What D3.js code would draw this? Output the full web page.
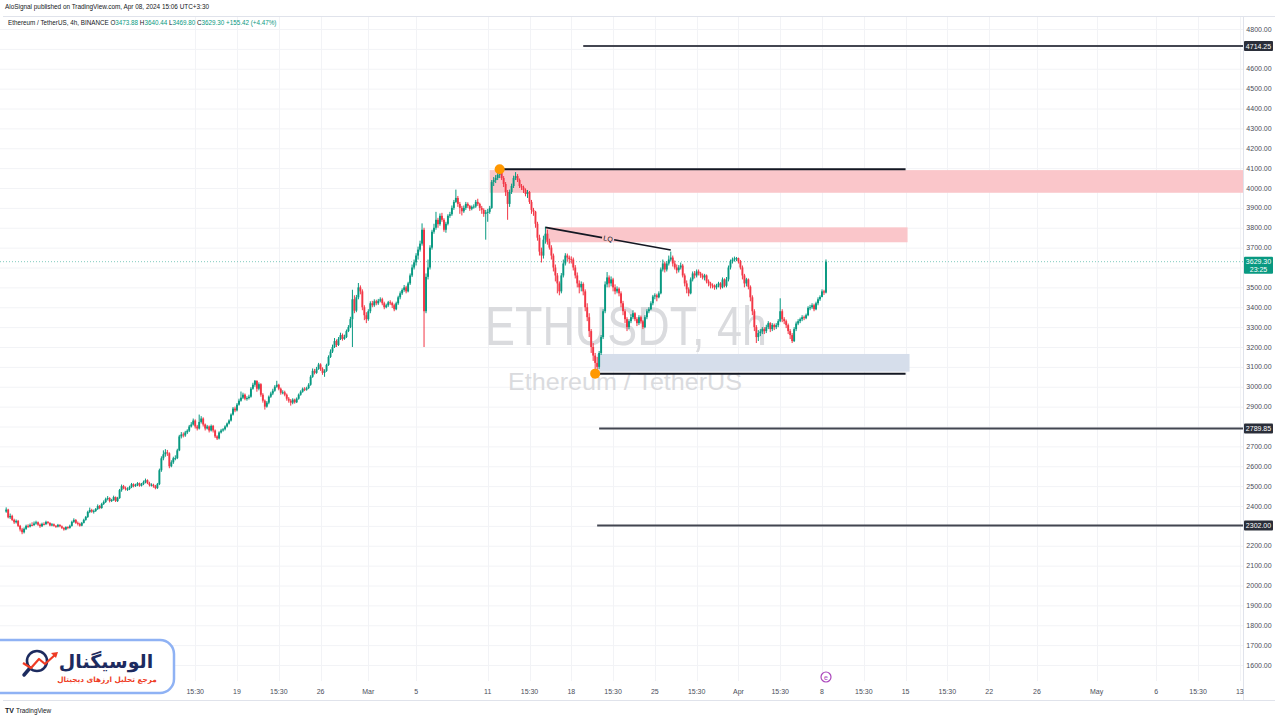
<!DOCTYPE html>
<html>
<head>
<meta charset="utf-8">
<style>
  body { margin: 0; background: #fff; }
  svg text { font-family: "Liberation Sans", Arial, sans-serif; }
  .fa { font-family: "DejaVu Sans", sans-serif; }
</style>
</head>
<body>
<svg id="chart" width="1280" height="720"></svg>
<script src="https://cdn.jsdelivr.net/npm/d3@7"></script>
<script>
// ---- data (4h candles, times in UTC+3:30 written as plain clock time) ----
var firstCandle = "2024-01-30T19:30";
var firstOpen = 2372;

// one row per day, 6 candles each
var closes = [
  2382,2343,
  2350,2330,2318,2325,2300,2282,
  2268,2285,2300,2296,2305,2304,
  2312,2318,2306,2298,2310,2309,
  2320,2315,2302,2308,2300,2296,
  2305,2298,2290,2282,2294,2290,
  2300,2320,2330,2315,2310,2301,
  2315,2330,2345,2370,2380,2372,
  2375,2385,2400,2390,2410,2420,
  2435,2440,2425,2430,2445,2425,
  2440,2480,2500,2490,2485,2486,
  2495,2510,2500,2505,2515,2502,
  2510,2520,2530,2515,2505,2507,
  2500,2490,2510,2580,2640,2660,
  2670,2665,2600,2620,2640,2641,
  2680,2750,2760,2755,2770,2779,
  2800,2810,2830,2800,2790,2823,
  2840,2810,2790,2800,2780,2803,
  2780,2750,2740,2770,2780,2786,
  2800,2815,2830,2860,2890,2881,
  2910,2930,2945,2960,2940,2943,
  2950,2990,3010,3030,2990,3013,
  2960,2930,2900,2920,2950,2966,
  2980,3000,3010,2990,2970,2972,
  2960,2940,2930,2920,2935,2922,
  2940,2960,2975,2990,2985,2993,
  3010,3050,3080,3070,3090,3112,
  3090,3070,3080,3110,3150,3177,
  3200,3230,3210,3240,3260,3241,
  3250,3280,3300,3340,3440,3383,
  3450,3500,3480,3400,3360,3340,
  3380,3420,3410,3430,3420,3433,
  3440,3420,3400,3410,3425,3421,
  3410,3390,3420,3450,3470,3487,
  3500,3480,3520,3560,3600,3626,
  3660,3690,3720,3790,3380,3553,
  3600,3700,3780,3800,3840,3818,
  3860,3840,3790,3820,3860,3868,
  3900,3930,3950,3920,3900,3883,
  3900,3920,3910,3895,3905,3907,
  3930,3920,3900,3890,3870,3877,
  3880,3900,4030,4040,4050,4066,
  4080,4050,4020,3980,3920,3980,
  4010,4050,4060,4040,4010,4003,
  3990,3970,3980,3930,3890,3881,
  3820,3750,3680,3660,3740,3770,
  3730,3700,3660,3600,3560,3520,
  3480,3560,3620,3660,3650,3642,
  3640,3600,3560,3520,3500,3517,
  3480,3400,3350,3280,3200,3157,
  3120,3100,3170,3250,3380,3515,
  3550,3520,3540,3500,3480,3493,
  3470,3420,3380,3340,3300,3330,
  3350,3370,3340,3320,3350,3329,
  3300,3350,3380,3390,3420,3454,
  3460,3450,3470,3590,3620,3590,
  3620,3640,3650,3620,3600,3586,
  3600,3610,3560,3520,3490,3470,
  3540,3570,3560,3580,3570,3560,
  3550,3560,3530,3520,3510,3509,
  3500,3510,3520,3500,3540,3508,
  3540,3600,3630,3640,3645,3647,
  3630,3600,3560,3520,3540,3503,
  3450,3380,3300,3250,3270,3278,
  3290,3280,3300,3320,3290,3311,
  3300,3310,3330,3380,3340,3330,
  3310,3280,3260,3230,3290,3318,
  3330,3340,3350,3345,3360,3397,
  3400,3410,3390,3420,3440,3452,
  3480,3473.88,3629.30
];
var highs = [
  2393,2386,
  2362,2356,2336,2332,2330,2305,
  2290,2292,2306,2308,2312,2318,
  2322,2326,2322,2312,2316,2318,
  2326,2324,2318,2314,2312,2304,
  2310,2308,2302,2294,2298,2298,
  2306,2326,2338,2334,2322,2316,
  2320,2336,2350,2376,2392,2386,
  2382,2390,2408,2405,2416,2428,
  2442,2450,2444,2436,2452,2448,
  2446,2486,2508,2506,2498,2494,
  2502,2516,2514,2512,2520,2518,
  2516,2528,2538,2534,2522,2514,
  2512,2506,2516,2588,2650,2680,
  2686,2682,2670,2630,2648,2655,
  2688,2758,2772,2770,2778,2786,
  2808,2822,2840,2836,2808,2860,
  2852,2846,2815,2808,2805,2810,
  2808,2785,2756,2776,2788,2792,
  2806,2820,2836,2866,2898,2900,
  2918,2940,2976,2970,2966,2952,
  2960,2998,3020,3034,3032,3022,
  3018,2968,2936,2928,2956,2975,
  2990,3008,3030,3015,2996,2982,
  2980,2966,2948,2938,2942,2940,
  2946,2966,2982,2996,2998,3000,
  3018,3058,3092,3090,3100,3120,
  3118,3098,3088,3116,3158,3188,
  3212,3245,3238,3250,3272,3268,
  3262,3288,3310,3352,3488,3460,
  3462,3522,3510,3490,3410,3375,
  3390,3430,3432,3440,3438,3442,
  3450,3448,3428,3418,3432,3435,
  3428,3418,3428,3458,3480,3495,
  3512,3508,3528,3570,3615,3640,
  3672,3705,3735,3822,3800,3570,
  3640,3712,3790,3820,3880,3850,
  3872,3875,3848,3830,3868,3880,
  3912,3940,3992,3960,3930,3910,
  3912,3930,3928,3915,3912,3918,
  3940,3946,3926,3910,3898,3890,
  3895,3910,4040,4055,4065,4080,
  4094,4088,4060,4030,3990,3992,
  4022,4062,4080,4070,4048,4020,
  4012,3998,3990,3985,3940,3900,
  3885,3830,3765,3700,3760,3805,
  3790,3745,3712,3670,3615,3572,
  3530,3572,3640,3672,3670,3660,
  3656,3650,3612,3575,3535,3530,
  3525,3490,3420,3370,3290,3220,
  3170,3150,3180,3260,3390,3530,
  3577,3560,3555,3548,3515,3505,
  3500,3480,3432,3390,3350,3340,
  3365,3385,3375,3350,3360,3358,
  3335,3360,3390,3400,3430,3462,
  3470,3468,3480,3600,3640,3630,
  3632,3660,3680,3660,3635,3615,
  3612,3625,3618,3570,3535,3500,
  3550,3580,3582,3590,3590,3578,
  3570,3568,3565,3540,3528,3520,
  3515,3518,3528,3526,3550,3545,
  3552,3610,3640,3650,3655,3653,
  3650,3638,3610,3568,3548,3545,
  3510,3460,3390,3310,3285,3290,
  3300,3300,3312,3330,3325,3320,
  3318,3320,3340,3445,3390,3350,
  3338,3318,3290,3270,3300,3328,
  3340,3348,3360,3358,3368,3405,
  3412,3420,3418,3428,3450,3460,
  3490,3488,3640.44
];
var lows = [
  2366,2338,
  2335,2325,2310,2312,2294,2272,
  2258,2262,2280,2290,2292,2298,
  2300,2306,2300,2290,2294,2302,
  2304,2308,2298,2298,2296,2290,
  2292,2293,2284,2276,2278,2283,
  2286,2296,2315,2310,2302,2296,
  2298,2312,2326,2340,2364,2366,
  2362,2370,2380,2384,2386,2405,
  2415,2428,2418,2420,2426,2420,
  2420,2436,2472,2484,2478,2476,
  2480,2490,2494,2496,2500,2497,
  2498,2505,2514,2510,2498,2498,
  2492,2484,2486,2505,2572,2630,
  2648,2652,2590,2595,2612,2630,
  2636,2676,2740,2745,2748,2762,
  2772,2795,2805,2790,2780,2785,
  2815,2800,2780,2785,2770,2775,
  2770,2742,2732,2735,2765,2774,
  2780,2795,2810,2825,2855,2872,
  2876,2905,2925,2938,2932,2930,
  2936,2945,2985,3000,2975,2982,
  2950,2920,2885,2895,2912,2944,
  2958,2975,2995,2982,2960,2962,
  2952,2930,2920,2905,2912,2915,
  2918,2935,2955,2970,2978,2980,
  2988,3005,3045,3062,3065,3085,
  3080,3060,3050,3075,3105,3145,
  3170,3195,3200,3205,3235,3232,
  3236,3245,3275,3295,3200,3370,
  3375,3440,3465,3385,3335,3320,
  3332,3370,3400,3402,3410,3412,
  3425,3410,3390,3395,3402,3412,
  3396,3380,3385,3412,3440,3462,
  3478,3470,3475,3512,3552,3590,
  3610,3640,3680,3710,3200,3370,
  3540,3590,3690,3770,3790,3800,
  3810,3830,3780,3775,3812,3850,
  3860,3890,3925,3905,3870,3862,
  3875,3890,3900,3885,3888,3896,
  3900,3910,3885,3870,3855,3740,
  3830,3870,3895,4010,4025,4040,
  4050,4040,4005,3960,3840,3905,
  3970,4000,4040,4030,4000,3990,
  3975,3958,3950,3920,3870,3860,
  3800,3735,3660,3625,3645,3720,
  3715,3690,3640,3580,3530,3470,
  3460,3470,3550,3610,3630,3620,
  3620,3585,3545,3500,3470,3480,
  3460,3380,3330,3250,3170,3130,
  3056,3080,3090,3160,3240,3370,
  3500,3500,3505,3480,3465,3470,
  3455,3400,3360,3320,3280,3290,
  3320,3340,3330,3305,3310,3318,
  3290,3295,3340,3370,3385,3410,
  3440,3430,3445,3465,3580,3575,
  3580,3610,3630,3605,3590,3570,
  3575,3590,3550,3505,3470,3455,
  3465,3530,3545,3550,3560,3548,
  3540,3535,3520,3505,3495,3495,
  3488,3490,3500,3490,3495,3500,
  3500,3530,3590,3620,3630,3632,
  3620,3590,3540,3500,3505,3490,
  3430,3360,3280,3220,3230,3255,
  3265,3265,3270,3290,3275,3280,
  3285,3290,3300,3325,3325,3315,
  3295,3265,3240,3220,3225,3280,
  3310,3320,3330,3335,3340,3355,
  3385,3392,3380,3385,3410,3432,
  3450,3462,3469.80
];

var priceTicks = [1600,1700,1800,1900,2000,2100,2200,2300,2400,2500,2600,2700,2800,2900,3000,
  3100,3200,3300,3400,3500,3600,3700,3800,3900,4000,4100,4200,4300,4400,4500,4600,4700,4800];
var hiddenPriceLabels = [2300, 2800, 3600, 4700];

var timeTickDates = ["2024-02-15T15:30","2024-02-19T03:30","2024-02-22T15:30","2024-02-26T03:30","2024-03-01T03:30",
  "2024-03-05T03:30","2024-03-11T03:30","2024-03-14T15:30","2024-03-18T03:30","2024-03-21T15:30","2024-03-25T03:30",
  "2024-03-28T15:30","2024-04-01T03:30","2024-04-04T15:30","2024-04-08T03:30","2024-04-11T15:30","2024-04-15T03:30",
  "2024-04-18T15:30","2024-04-22T03:30","2024-04-26T03:30","2024-05-01T03:30","2024-05-06T03:30","2024-05-09T15:30",
  "2024-05-13T03:30"];
var timeTickLabels = ["15:30","19","15:30","26","Mar","5","11","15:30","18","15:30","25","15:30","Apr","15:30","8",
  "15:30","15","15:30","22","26","May","6","15:30","13"];

// horizontal levels running to the price axis
var levelPrices = [4714.25, 2789.85, 2302.00];
var levelStarts = ["2024-03-19T03:30", "2024-03-20T11:30", "2024-03-20T07:30"];

// rectangles (supply / demand zones)
var zoneTops = [4090, 3802, 3165];
var zoneBottoms = [3976, 3727, 3076];
var zoneStarts = ["2024-03-11T07:30", "2024-03-15T23:30", "2024-03-20T07:30"];
var zoneEnds = ["2024-05-20T03:30", "2024-04-15T07:30", "2024-04-15T11:30"];
var zoneColors = ["#fac6ca", "#fac6ca", "#d6deeb"];

// swing high / low rays
var swingPrices = [4093.92, 3066];
var swingStarts = ["2024-03-12T03:30", "2024-03-20T03:30"];
var swingEnds = ["2024-04-15T03:30", "2024-04-15T03:30"];

// LQ trend line
var lqDates = ["2024-03-15T23:30", "2024-03-26T11:30"];
var lqPrices = [3802, 3688];

var lastPrice = 3629.30;

// ---- drawing ----
var parse = d3.utcParse("%Y-%m-%dT%H:%M");
var plotRight = 1243, plotTop = 17, plotBottom = 681;
var up = "#089981", down = "#f23645";

var x = d3.scaleUtc()
  .domain([parse("2024-02-19T03:30"), parse("2024-04-08T03:30")])
  .range([237, 822]);
var y = d3.scaleLinear().domain([1600, 4800]).range([665, 29]);

var svg = d3.select("#chart");

svg.append("defs").append("clipPath").attr("id", "plot")
  .append("rect").attr("x", 0).attr("y", plotTop).attr("width", plotRight).attr("height", plotBottom - plotTop);

// grid
var grid = svg.append("g").attr("clip-path", "url(#plot)");
grid.selectAll(".hg").data(priceTicks).enter().append("line")
  .attr("x1", 0).attr("x2", plotRight)
  .attr("y1", function(d) { return y(d) + 0.5; }).attr("y2", function(d) { return y(d) + 0.5; })
  .attr("stroke", "#f2f3f6").attr("stroke-width", 1);
grid.selectAll(".vg").data(timeTickDates).enter().append("line")
  .attr("x1", function(d) { return Math.round(x(parse(d))) + 0.5; })
  .attr("x2", function(d) { return Math.round(x(parse(d))) + 0.5; })
  .attr("y1", plotTop).attr("y2", plotBottom)
  .attr("stroke", "#f2f3f6").attr("stroke-width", 1);

// watermark
svg.append("text").attr("x", 626).attr("y", 345).attr("text-anchor", "middle")
  .attr("font-size", 56).attr("fill", "#dadbde")
  .attr("textLength", 282).attr("lengthAdjust", "spacingAndGlyphs").text("ETHUSDT, 4h");
svg.append("text").attr("x", 625).attr("y", 390).attr("text-anchor", "middle")
  .attr("font-size", 24).attr("fill", "#dadbde")
  .attr("textLength", 234).attr("lengthAdjust", "spacingAndGlyphs").text("Ethereum / TetherUS");

var plot = svg.append("g").attr("clip-path", "url(#plot)");

// zones
plot.selectAll(".zone").data(zoneTops).enter().append("rect")
  .attr("x", function(d, i) { return x(parse(zoneStarts[i])); })
  .attr("width", function(d, i) { return x(parse(zoneEnds[i])) - x(parse(zoneStarts[i])); })
  .attr("y", function(d) { return y(d); })
  .attr("height", function(d, i) { return y(zoneBottoms[i]) - y(d); })
  .attr("fill", function(d, i) { return zoneColors[i]; });

// last price line
plot.append("line").attr("x1", 0).attr("x2", plotRight)
  .attr("y1", y(lastPrice)).attr("y2", y(lastPrice))
  .attr("stroke", up).attr("stroke-width", 1).attr("stroke-dasharray", "1,2").attr("opacity", 0.5);

// candles
var t0 = parse(firstCandle);
var candles = closes.map(function(c, i) {
  return { t: d3.utcHour.offset(t0, 4 * i), o: i ? closes[i - 1] : firstOpen, h: highs[i], l: lows[i], c: c };
});
var cg = plot.append("g");
cg.selectAll(".wick").data(candles).enter().append("line")
  .attr("x1", function(d) { return x(d.t); }).attr("x2", function(d) { return x(d.t); })
  .attr("y1", function(d) { return y(d.h); }).attr("y2", function(d) { return y(d.l); })
  .attr("stroke", function(d) { return d.c >= d.o ? up : down; }).attr("stroke-width", 1);
cg.selectAll(".body").data(candles).enter().append("rect")
  .attr("x", function(d) { return x(d.t) - 0.95; }).attr("width", 1.9)
  .attr("y", function(d) { return y(Math.max(d.o, d.c)); })
  .attr("height", function(d) { return Math.max(1, Math.abs(y(d.o) - y(d.c))); })
  .attr("fill", function(d) { return d.c >= d.o ? up : down; });

// horizontal levels
plot.selectAll(".lvl").data(levelPrices).enter().append("line")
  .attr("x1", function(d, i) { return x(parse(levelStarts[i])); }).attr("x2", plotRight)
  .attr("y1", function(d) { return y(d); }).attr("y2", function(d) { return y(d); })
  .attr("stroke", "#434651").attr("stroke-width", 2);

// swing rays
plot.selectAll(".swing").data(swingPrices).enter().append("line")
  .attr("x1", function(d, i) { return x(parse(swingStarts[i])); })
  .attr("x2", function(d, i) { return x(parse(swingEnds[i])); })
  .attr("y1", function(d) { return y(d); }).attr("y2", function(d) { return y(d); })
  .attr("stroke", "#131722").attr("stroke-width", 2);
plot.selectAll(".dot").data(swingPrices).enter().append("circle")
  .attr("cx", function(d, i) { return x(parse(swingStarts[i])); })
  .attr("cy", function(d) { return y(d); }).attr("r", 5)
  .attr("fill", "#ff9800");

// LQ line
var lx1 = x(parse(lqDates[0])), ly1 = y(lqPrices[0]);
var lx2 = x(parse(lqDates[1])), ly2 = y(lqPrices[1]);
var mx = (lx1 + lx2) / 2, my = (ly1 + ly2) / 2;
var slope = (ly2 - ly1) / (lx2 - lx1);
var ang = Math.atan(slope) * 180 / Math.PI;
plot.append("line").attr("x1", lx1).attr("y1", ly1).attr("x2", mx - 6).attr("y2", my - 6 * slope)
  .attr("stroke", "#131722").attr("stroke-width", 1.6);
plot.append("line").attr("x1", mx + 6).attr("y1", my + 6 * slope).attr("x2", lx2).attr("y2", ly2)
  .attr("stroke", "#131722").attr("stroke-width", 1.6);
plot.append("text").attr("x", mx).attr("y", my + 2.5).attr("text-anchor", "middle")
  .attr("font-size", 7).attr("fill", "#131722")
  .attr("transform", "rotate(" + ang + "," + mx + "," + my + ")").text("LQ");

// purple marker under the last candle
var mk = svg.append("g").attr("transform", "translate(826,677)");
mk.append("circle").attr("r", 5).attr("fill", "#fff").attr("stroke", "#ab47bc").attr("stroke-width", 1.2);
mk.append("text").attr("y", 2.5).attr("text-anchor", "middle").attr("font-size", 7).attr("fill", "#ab47bc").text("e");

// frame
svg.append("line").attr("x1", plotRight + 0.5).attr("x2", plotRight + 0.5).attr("y1", plotTop).attr("y2", 700)
  .attr("stroke", "#e0e3eb");
svg.append("line").attr("x1", 3).attr("x2", 1275).attr("y1", 700.5).attr("y2", 700.5).attr("stroke", "#e0e3eb");
svg.append("line").attr("x1", 3).attr("x2", 1275).attr("y1", plotTop - 0.5).attr("y2", plotTop - 0.5).attr("stroke", "#e0e3eb");

// price axis
var pa = svg.append("g");
pa.selectAll("text").data(priceTicks.filter(function(d) { return hiddenPriceLabels.indexOf(d) < 0; }))
  .enter().append("text")
  .attr("x", 1259).attr("y", function(d) { return y(d) + 2.5; }).attr("text-anchor", "middle")
  .attr("font-size", 7).attr("fill", "#4a4e59").text(function(d) { return d3.format(".2f")(d); });

// level price labels
var lab = pa.selectAll(".lab").data(levelPrices).enter().append("g");
lab.append("rect").attr("x", 1244).attr("width", 29).attr("y", function(d) { return y(d) - 5; }).attr("height", 10)
  .attr("fill", "#2a2e39").attr("rx", 1);
lab.append("text").attr("x", 1258.5).attr("y", function(d) { return y(d) + 2.5; }).attr("text-anchor", "middle")
  .attr("font-size", 7).attr("fill", "#fff").text(function(d) { return d3.format(".2f")(d); });

// last price label
pa.append("rect").attr("x", 1244).attr("width", 29).attr("y", y(lastPrice) - 5).attr("height", 17)
  .attr("fill", up).attr("rx", 1);
pa.append("text").attr("x", 1258.5).attr("y", y(lastPrice) + 2.5).attr("text-anchor", "middle")
  .attr("font-size", 7).attr("fill", "#fff").text(d3.format(".2f")(lastPrice));
pa.append("text").attr("x", 1258.5).attr("y", y(lastPrice) + 10).attr("text-anchor", "middle")
  .attr("font-size", 7).attr("fill", "#fff").text("23:25");

// time axis
svg.append("g").selectAll("text").data(timeTickDates).enter().append("text")
  .attr("x", function(d) { return x(parse(d)); }).attr("y", 694).attr("text-anchor", "middle")
  .attr("font-size", 7).attr("fill", "#4a4e59").text(function(d, i) { return timeTickLabels[i]; });

// header
svg.append("text").attr("x", 5).attr("y", 9).attr("font-size", 6.4).attr("fill", "#131722")
  .text("AloSignal published on TradingView.com, Apr 08, 2024 15:06 UTC+3:30");
var hd = svg.append("text").attr("x", 8).attr("y", 25).attr("font-size", 6.3).attr("fill", "#131722");
hd.append("tspan").text("Ethereum / TetherUS, 4h, BINANCE  ");
[["O", "3473.88"], ["H", "3640.44"], ["L", "3469.80"], ["C", "3629.30"]].forEach(function(p) {
  hd.append("tspan").text(p[0]);
  hd.append("tspan").attr("fill", up).text(p[1] + " ");
});
hd.append("tspan").attr("fill", up).text("+155.42 (+4.47%)");

// footer
var tv = svg.append("g").attr("transform", "translate(5,706)");
tv.append("text").attr("y", 7).attr("font-size", 7).attr("font-weight", "bold").attr("fill", "#131722").text("TV");
tv.append("text").attr("x", 11).attr("y", 7).attr("font-size", 6.4).attr("fill", "#131722").text("TradingView");

// AloSignal logo badge
var lg = svg.append("g");
lg.append("rect").attr("x", -20).attr("y", 640).attr("width", 194).attr("height", 53).attr("rx", 14)
  .attr("fill", "#fff").attr("stroke", "#8fb2f4").attr("stroke-width", 2.5);
lg.append("circle").attr("cx", 37).attr("cy", 661).attr("r", 10).attr("fill", "#fff")
  .attr("stroke", "#1d2b5f").attr("stroke-width", 2.6);
lg.append("line").attr("x1", 30).attr("y1", 668).attr("x2", 24).attr("y2", 675)
  .attr("stroke", "#1d2b5f").attr("stroke-width", 3.5).attr("stroke-linecap", "round");
lg.append("polyline").attr("points", "23,663 31,668 39,659 45,664 56,654")
  .attr("fill", "none").attr("stroke", "#ee3b24").attr("stroke-width", 2.2).attr("stroke-linejoin", "round");
lg.append("path").attr("d", "M58,652 L51,653 L56,658 Z").attr("fill", "#ee3b24");
lg.append("text").attr("class", "fa").attr("x", 106).attr("y", 668).attr("text-anchor", "middle")
  .attr("font-size", 19).attr("font-weight", "bold").attr("fill", "#1d2b5f").text("الوسیگنال");
lg.append("text").attr("class", "fa").attr("x", 107).attr("y", 682).attr("text-anchor", "middle")
  .attr("font-size", 7.3).attr("font-weight", "bold").attr("fill", "#ee3b24").text("مرجع تحلیل ارزهای دیجیتال");
</script>
</body>
</html>
